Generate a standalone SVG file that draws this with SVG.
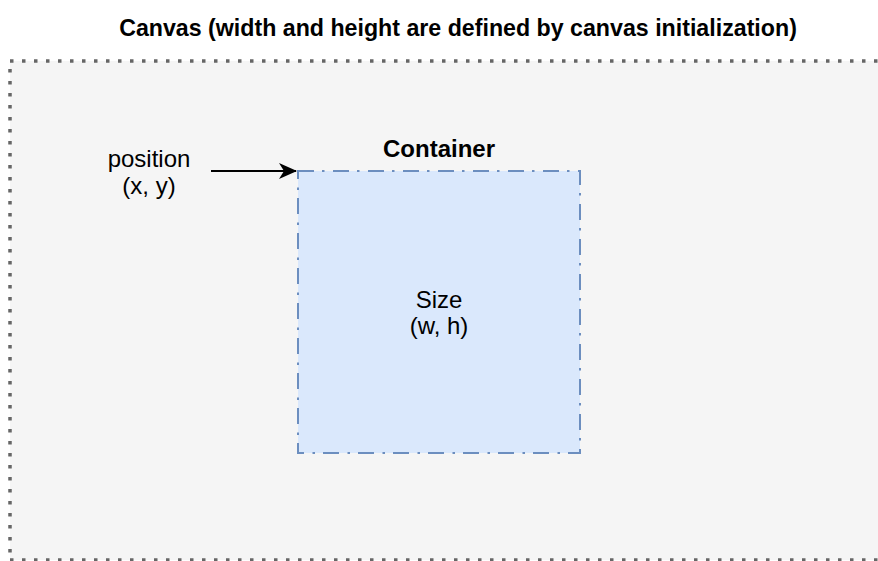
<svg xmlns="http://www.w3.org/2000/svg" width="878" height="561" viewBox="0 0 878 561">
  <style>
    .title { font-family: "Liberation Sans", Arial, sans-serif; font-size: 23.2px; font-weight: bold; fill: #000000; }
    .label { font-family: "Liberation Sans", Arial, sans-serif; font-size: 24px; fill: #000000; }
    .bold { font-weight: bold; }
    .canvas-fill { fill: #f5f5f5; stroke: none; }
    .canvas-edge { fill: none; stroke: #666666; stroke-width: 3.5; stroke-dasharray: 3.5 8.5; }
    .container { fill: #dae8fc; stroke: #6c8ebf; stroke-width: 2; stroke-dasharray: 16 8 2.5 8.5; }
    .edge { fill: none; stroke: #000000; stroke-width: 2; }
  </style>
  <defs>
    <marker id="arrowhead" markerWidth="18" markerHeight="16" refX="17" refY="8" orient="auto" markerUnits="userSpaceOnUse">
      <path d="M0,0 L18,8 L0,16 L5,8 Z" fill="#000000"/>
    </marker>
  </defs>

  <rect width="878" height="561" fill="#ffffff"/>

  <!-- canvas area: dotted border on top, left and bottom, open to the right -->
  <g id="canvas">
    <rect class="canvas-fill" x="10" y="61" width="880" height="499"/>
    <line class="canvas-edge" x1="10" y1="61" x2="890" y2="61"/>
    <line class="canvas-edge" x1="10" y1="61" x2="10" y2="560" stroke-dashoffset="4"/>
    <line class="canvas-edge" x1="10" y1="560" x2="890" y2="560"/>
    <text class="title" x="458" y="36" text-anchor="middle">Canvas (width and height are defined by canvas initialization)</text>
  </g>

  <!-- container box -->
  <g id="container">
    <rect class="container" x="298" y="171" width="282" height="282"/>
    <text class="label bold" x="439" y="157" text-anchor="middle">Container</text>
    <text class="label" x="439" y="308" text-anchor="middle">Size</text>
    <text class="label" x="439" y="334" text-anchor="middle">(w, h)</text>
  </g>

  <!-- position label -->
  <g id="position">
    <text class="label" x="149" y="167" text-anchor="middle">position</text>
    <text class="label" x="149" y="194" text-anchor="middle">(x, y)</text>
  </g>

  <g id="connectors">
    <line class="edge" x1="211" y1="171" x2="296" y2="171" marker-end="url(#arrowhead)"/>
  </g>
</svg>
